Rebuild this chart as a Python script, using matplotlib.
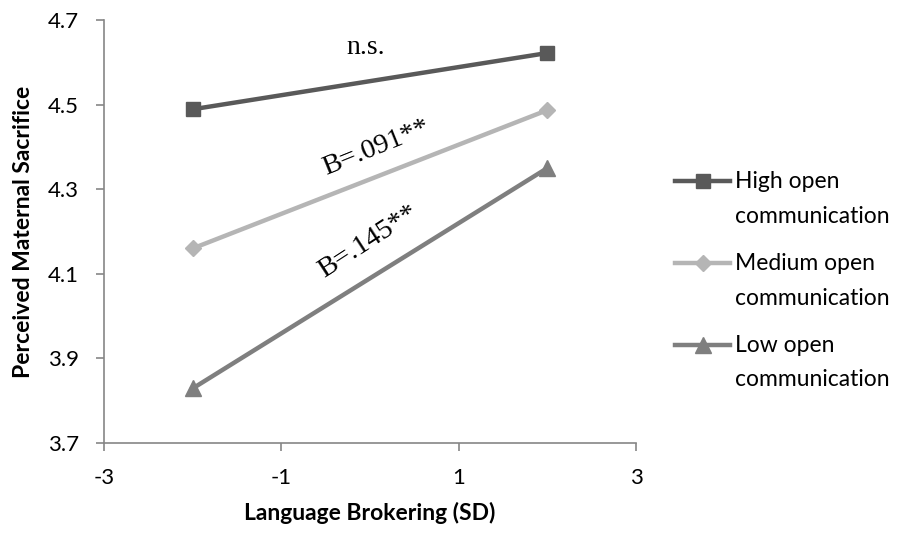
import matplotlib
matplotlib.use("Agg")
import matplotlib.pyplot as plt
from matplotlib.legend_handler import HandlerLine2D

# data
x_sd = [-2, 2]
high_open = [4.489, 4.622]
medium_open = [4.160, 4.487]
low_open = [3.829, 4.350]

series_labels = ["High open\ncommunication",
                 "Medium open\ncommunication",
                 "Low open\ncommunication"]
x_ticks = [-3, -1, 1, 3]
y_ticks = [3.7, 3.9, 4.1, 4.3, 4.5, 4.7]

plt.rcParams["font.family"] = ["Lato", "DejaVu Sans"]
plt.rcParams["axes.unicode_minus"] = False


class TopLineHandler(HandlerLine2D):
    """Put the legend key next to the first line of a two-line label."""
    def create_artists(self, legend, orig_handle, xdescent, ydescent,
                       width, height, fontsize, trans):
        arts = super().create_artists(legend, orig_handle, xdescent, ydescent,
                                      width, height, fontsize, trans)
        for a in arts:
            a.set_ydata([y + 12.8 for y in a.get_ydata()])
        return arts


fig = plt.figure(figsize=(9.06, 5.34), dpi=100)
ax = fig.add_axes([0.1148, 0.1704, 0.5872, 0.7921])

ax.plot(x_sd, high_open, color="#595959", lw=3.2, marker="s", ms=10.5,
        label=series_labels[0])
ax.plot(x_sd, medium_open, color="#b5b5b5", lw=3.2, marker="D", ms=8,
        label=series_labels[1])
ax.plot(x_sd, low_open, color="#7f7f7f", lw=3.2, marker="^", ms=11,
        label=series_labels[2])

ax.set_xlim(-3, 3)
ax.set_ylim(3.7, 4.7)
ax.set_xticks(x_ticks)
ax.set_yticks(y_ticks)
ax.set_xticklabels([str(v) for v in x_ticks])
ax.set_yticklabels([f"{v:.1f}" for v in y_ticks])

for side in ["top", "right"]:
    ax.spines[side].set_visible(False)
for side in ["left", "bottom"]:
    ax.spines[side].set_color("#868686")
    ax.spines[side].set_linewidth(1.2)
ax.tick_params(axis="both", colors="#868686", length=6, width=1.2,
               labelsize=16, labelcolor="black", pad=12)

ax.set_xlabel("Language Brokering (SD)", fontsize=16.5, fontweight="bold",
              labelpad=10)
ax.set_ylabel("Perceived Maternal Sacrifice", fontsize=16.5,
              fontweight="bold", labelpad=10)

# slope annotations
serif = ["Liberation Serif", "DejaVu Serif"]
ax.text(-0.045, 4.636, "n.s.", family=serif, fontsize=20,
        ha="center", va="center")
ax.text(0.07, 4.397, "B=.091**", family=serif, fontsize=20.5,
        ha="center", va="center", rotation=22)
ax.text(-0.023, 4.175, "B=.145**", family=serif, fontsize=20.5,
        ha="center", va="center", rotation=33)

leg = ax.legend(loc="upper left", bbox_to_anchor=(0.735, 0.697),
                bbox_transform=fig.transFigure, frameon=False, fontsize=16.5,
                handlelength=2.4, handletextpad=0.22, labelspacing=1.15,
                borderaxespad=0,
                handler_map={plt.Line2D: TopLineHandler()})
for t in leg.get_texts():
    t.set_linespacing(1.8)

fig.savefig("out.png", dpi=100)
